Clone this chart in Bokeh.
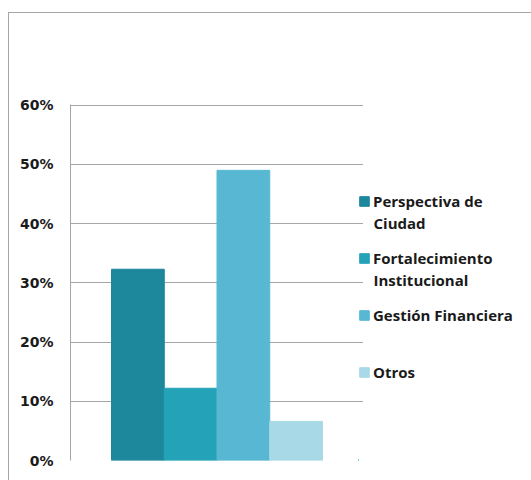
from bokeh.plotting import figure
from bokeh.layouts import row
from bokeh.models import (FactorRange, Range1d, Legend, LegendItem, Label,
                          FixedTicker, NumeralTickFormatter)
from bokeh.embed import file_html
from bokeh.resources import INLINE

# Data
series = ["Perspectiva de Ciudad", "Fortalecimiento Institucional",
          "Gestión Financiera", "Otros"]
values = [0.323, 0.122, 0.49, 0.066]
colors = ["#1D879B", "#24A2B8", "#58B8D4", "#A8D9E6"]
legend_first = ["Perspectiva de", "Fortalecimiento", "Gestión Financiera", "Otros"]
legend_second = ["Ciudad", "Institucional", "", ""]
yticks = [0, 0.1, 0.2, 0.3, 0.4, 0.5, 0.6]

FONT = "Open Sans"
TICK_FONT = "DejaVu Sans"
TXT = "#1a1a1a"
GRID = "#a6a6a6"

# Main chart
p = figure(width=354, height=467, output_backend="svg", toolbar_location=None,
           x_range=FactorRange(factors=series, range_padding=0.389),
           y_range=Range1d(0, 0.6012),
           min_border_left=61, min_border_right=0,
           min_border_top=91, min_border_bottom=20)

renderers = []
for s, v, c in zip(series, values, colors):
    r = p.vbar(x=[s], top=[v], width=1.0, fill_color=c, line_color=c)
    renderers.append(r)

p.outline_line_color = None
p.background_fill_color = "white"
p.border_fill_color = "white"
p.xaxis.visible = False
p.xgrid.visible = False

p.yaxis.ticker = FixedTicker(ticks=yticks)
p.yaxis.formatter = NumeralTickFormatter(format="0%")
p.yaxis.axis_line_color = GRID
p.yaxis.axis_line_width = 1
p.yaxis.major_tick_line_color = None
p.yaxis.minor_tick_line_color = None
p.yaxis.major_tick_out = 0
p.yaxis.major_label_standoff = 17
p.yaxis.major_label_text_font = TICK_FONT
p.yaxis.major_label_text_font_style = "bold"
p.yaxis.major_label_text_font_size = "14px"
p.yaxis.major_label_text_color = TXT

p.ygrid.ticker = FixedTicker(ticks=yticks)
p.ygrid.grid_line_color = GRID
p.ygrid.grid_line_width = 1

# Legend panel
pl = figure(width=173, height=467, output_backend="svg", toolbar_location=None,
            x_range=Range1d(0, 173), y_range=Range1d(0, 467),
            x_axis_location=None, y_axis_location=None,
            min_border=0)
pl.grid.visible = False
pl.outline_line_color = None
pl.background_fill_alpha = 0
pl.border_fill_alpha = 0
pl.margin = (0, 0, 0, -5)

# legend swatches (renderers kept outside the visible range)
leg_renderers = [pl.vbar(x=[-1000], top=[1], width=1, fill_color=c, line_color=c)
                 for c in colors]
items = [LegendItem(label=lab, renderers=[r]) for lab, r in zip(legend_first, leg_renderers)]
legend = Legend(items=items, location=(0, 78), orientation="vertical",
                glyph_width=12, glyph_height=12, label_standoff=3,
                label_height=12, spacing=37, padding=0, margin=0,
                border_line_color=None, background_fill_alpha=0,
                label_text_font=FONT, label_text_font_style="bold",
                label_text_font_size="15px", label_text_color=TXT)
pl.add_layout(legend, "center")

for i, t in enumerate(legend_second):
    if t:
        pl.add_layout(Label(x=15, y=460.5 - (223 + 57 * i), x_units="screen", y_units="screen",
                            text=t, text_font=FONT, text_font_style="bold",
                            text_font_size="15px", text_color=TXT,
                            text_baseline="middle"))

layout = row(p, pl, spacing=0)
layout.margin = (12, 0, 0, 8)
layout.styles = {"border-left": "1px solid #a6a6a6", "border-top": "1px solid #a6a6a6"}

open("out.html", "w").write(file_html(layout, INLINE))
